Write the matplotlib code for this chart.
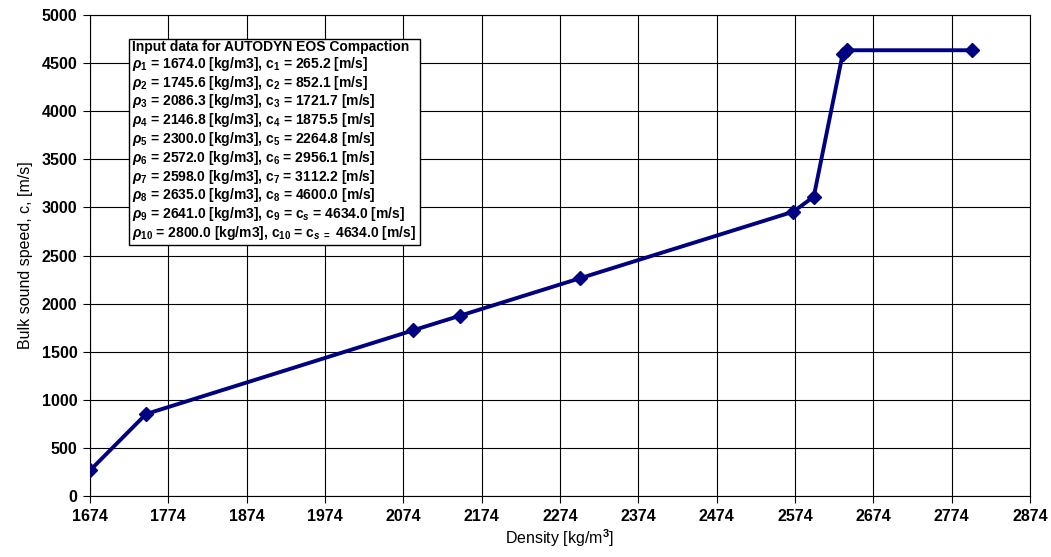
import numpy as np
import matplotlib
matplotlib.use("Agg")
import matplotlib.pyplot as plt

plt.rcParams['font.family'] = ['Liberation Sans', 'DejaVu Sans']
plt.rcParams['mathtext.fontset'] = 'custom'
plt.rcParams['mathtext.rm'] = 'Liberation Sans:bold'
plt.rcParams['mathtext.it'] = 'Liberation Sans:italic:bold'
plt.rcParams['mathtext.bf'] = 'Liberation Sans:bold'

# data points (density, bulk sound speed)
density = [1674.0, 1745.6, 2086.3, 2146.8, 2300.0, 2572.0, 2598.0, 2635.0, 2641.0, 2800.0]
speed = [265.2, 852.1, 1721.7, 1875.5, 2264.8, 2956.1, 3112.2, 4600.0, 4634.0, 4634.0]

xticks = np.arange(1674, 2875, 100)
yticks = np.arange(0, 5001, 500)

fig = plt.figure(figsize=(10.51, 5.57), dpi=100)
ax = fig.add_axes([0.0856, 0.1095, 0.8944, 0.8635])

ax.plot(density, speed, color='#000080', lw=2.8, marker='D', ms=7.5,
        markerfacecolor='#000080', markeredgecolor='#000080', zorder=3)

ax.set_xlim(1674, 2874)
ax.set_ylim(0, 5000)
ax.set_xticks(xticks)
ax.set_yticks(yticks)
ax.tick_params(direction='out', length=5, width=0.8, labelsize=11.5, pad=4)
for lab in ax.get_xticklabels() + ax.get_yticklabels():
    lab.set_fontweight('bold')
ax.grid(True, color='black', lw=0.8)
for s in ax.spines.values():
    s.set_linewidth(0.8)
ax.set_axisbelow(True)

ax.set_xlabel('Density [kg/m$^3$]', fontsize=11.5, labelpad=3)
ax.set_ylabel('Bulk sound speed, c, [m/s]', fontsize=11.5, labelpad=6)

lines = ['Input data for AUTODYN EOS Compaction']
for i, (r, c) in enumerate(zip(density, speed), start=1):
    if i == 9:
        lines.append(r'$\rho_{%d}$ = %.1f [kg/m3], c$_{%d}$ = c$_{s}$ = %.1f [m/s]' % (i, r, i, c))
    elif i == 10:
        lines.append(r'$\rho_{%d}$ = %.1f [kg/m3], c$_{%d}$ = c$_{s\ =}$ %.1f [m/s]' % (i, r, i, c))
    else:
        lines.append(r'$\rho_{%d}$ = %.1f [kg/m3], c$_{%d}$ = %.1f [m/s]' % (i, r, i, c))

ax.text(0.045, 0.948, '\n'.join(lines), transform=ax.transAxes, fontsize=10,
        fontweight='bold', va='top', ha='left', linespacing=1.06,
        bbox=dict(boxstyle='square,pad=0.25', facecolor='white', edgecolor='black', lw=1),
        zorder=5)

fig.savefig('out.png', dpi=100)
